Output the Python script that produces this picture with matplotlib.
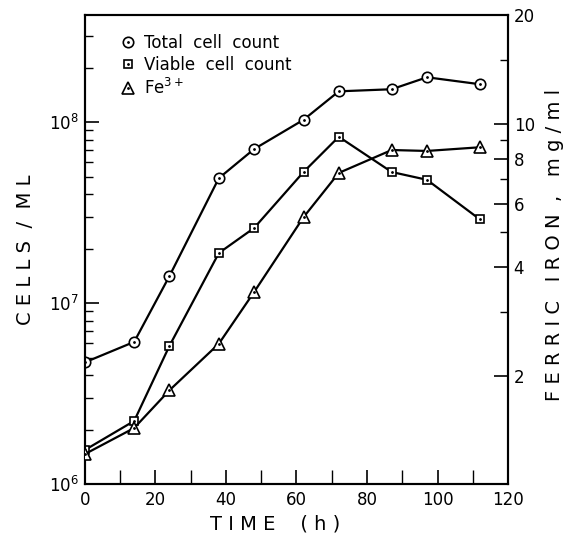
import numpy as np
import matplotlib
matplotlib.use("Agg")
import matplotlib.pyplot as plt
from matplotlib.lines import Line2D
from matplotlib.legend_handler import HandlerTuple
from matplotlib.ticker import FixedLocator, NullFormatter, LogLocator

plt.rcParams['font.family'] = ['DejaVu Sans']

# time points (h)
time_total = [0, 14, 24, 38, 48, 62, 72, 87, 97, 112]
total_cells = [4.7e6, 6.1e6, 1.41e7, 4.9e7, 7.1e7, 1.03e8, 1.48e8, 1.52e8, 1.77e8, 1.62e8]

time_viable = [0, 14, 24, 38, 48, 62, 72, 87, 97, 112]
viable_cells = [1.54e6, 2.23e6, 5.8e6, 1.89e7, 2.6e7, 5.3e7, 8.3e7, 5.3e7, 4.8e7, 2.9e7]

time_fe = [0, 14, 24, 38, 48, 62, 72, 87, 97, 112]
fe3 = [1.21, 1.43, 1.82, 2.45, 3.41, 5.5, 7.3, 8.45, 8.4, 8.6]

legend_labels = ["Total  cell  count", "Viable  cell  count", "Fe$^{3+}$"]
right_ticks = [2, 4, 6, 8, 10, 20]
right_minor = [3, 5, 7, 9, 15]

fig = plt.figure(figsize=(5.69, 5.43), dpi=100)
ax = fig.add_axes([0.149, 0.1087, 0.744, 0.8633])
ax2 = ax.twinx()

lw = 1.6
ax.plot(time_total, total_cells, color='k', lw=lw, marker='o', ms=7.5,
        mfc='white', mec='k', mew=1.2, zorder=3)
ax.plot(time_total, total_cells, ls='none', marker='.', ms=2, color='k', zorder=4)
ax.plot(time_viable, viable_cells, color='k', lw=lw, marker='s', ms=6,
        mfc='white', mec='k', mew=1.2, zorder=3)
ax.plot(time_viable, viable_cells, ls='none', marker='.', ms=2, color='k', zorder=4)
ax2.plot(time_fe, fe3, color='k', lw=lw, marker='^', ms=8,
         mfc='white', mec='k', mew=1.2, zorder=3)
ax2.plot(time_fe, fe3, ls='none', marker='.', ms=2, color='k', zorder=4)

ax.set_yscale('log')
ax.set_ylim(1e6, 3.9e8)
ax.set_xlim(0, 120)
ax.set_xticks(np.arange(0, 121, 20))
ax.set_xticks(np.arange(0, 121, 10), minor=True)
ax.yaxis.set_major_locator(FixedLocator([1e6, 1e7, 1e8]))
ax.yaxis.set_minor_locator(LogLocator(base=10, subs=np.arange(2, 10)))
ax.yaxis.set_minor_formatter(NullFormatter())
ax.set_yticklabels(['$10^6$', '$10^7$', '$10^8$'])

ax2.set_yscale('log')
ax2.set_ylim(1, 20)
ax2.yaxis.set_major_locator(FixedLocator(right_ticks))
ax2.yaxis.set_minor_locator(FixedLocator(right_minor))
ax2.yaxis.set_minor_formatter(NullFormatter())
ax2.set_yticklabels([str(t) for t in right_ticks])

for a in (ax, ax2):
    a.tick_params(which='major', direction='in', length=10, width=1.2, labelsize=12, pad=4)
    a.tick_params(which='minor', direction='in', length=6, width=1.0)
    for s in a.spines.values():
        s.set_linewidth(1.5)
ax.tick_params(axis='x', which='minor', length=10)
ax.tick_params(axis='x', pad=5)

ax.set_xlabel("T I M E    ( h )", fontsize=14)
ax.xaxis.set_label_coords(0.45, -0.066)
ax.set_ylabel("C E L L S  /  M L", fontsize=14, labelpad=10)
ax2.set_ylabel("F E R R I C   I R O N  ,   m g / m l", fontsize=14)
ax2.yaxis.set_label_coords(1.088, 0.51)

dot = Line2D([], [], ls='none', marker='.', ms=2, color='k')
h1 = (Line2D([], [], ls='none', marker='o', ms=7.5, mfc='white', mec='k', mew=1.2), dot)
h2 = (Line2D([], [], ls='none', marker='s', ms=6, mfc='white', mec='k', mew=1.2), dot)
h3 = (Line2D([], [], ls='none', marker='^', ms=8, mfc='white', mec='k', mew=1.2), dot)
ax.legend([h1, h2, h3], legend_labels, handler_map={tuple: HandlerTuple(ndivide=1, pad=0)},
          loc='upper left', bbox_to_anchor=(0.07, 0.975), frameon=False, fontsize=12,
          handlelength=0.8, handletextpad=0.6, labelspacing=0.25, borderaxespad=0)

fig.savefig("out.png", dpi=100)
